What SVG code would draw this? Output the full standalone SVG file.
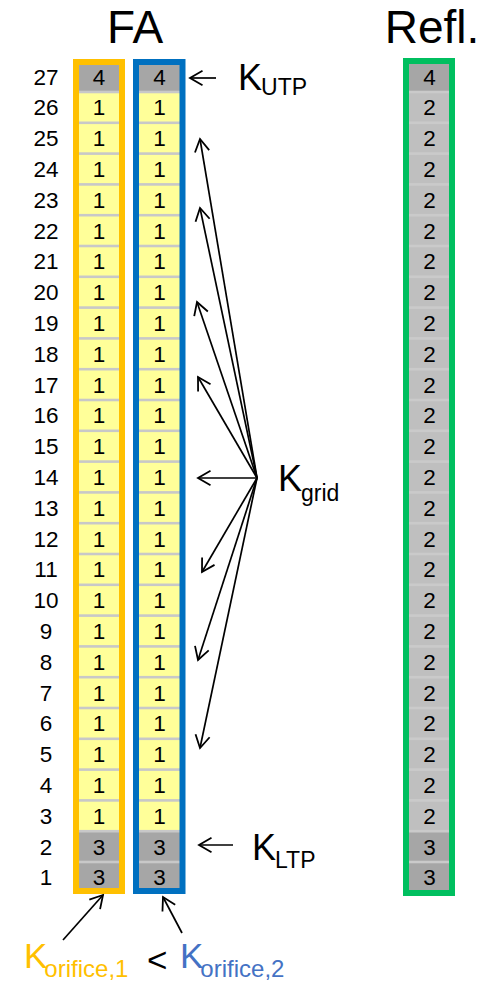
<svg xmlns="http://www.w3.org/2000/svg" width="488" height="982" viewBox="0 0 488 982">
  <style>
    text { font-family: "Liberation Sans", Arial, sans-serif; fill: #000; }
    .title { font-size: 46px; text-anchor: middle; }
    .num { font-size: 22.5px; text-anchor: middle; }
    .k { font-size: 36px; }
    .sub { font-size: 23px; }
    .yel { fill: #FFFF99; }
    .dk { fill: #A6A6A6; }
    .lt { fill: #BFBFBF; }
    .sepA { fill: #C8C8C8; }
    .sepB { fill: #CACACA; }
    .frame { fill: none; stroke-width: 6; }
    .conn line { stroke: #000; stroke-width: 1.7; fill: none; marker-end: url(#head); }
  </style>
  <defs>
    <marker id="head" viewBox="-16 -10 18 20" refX="0" refY="0" markerWidth="18" markerHeight="20" markerUnits="userSpaceOnUse" orient="auto">
      <path d="M-12.5,-7.2 L0,0 L-12.5,7.2" fill="none" stroke="#000" stroke-width="1.8"/>
    </marker>
  </defs>

  <rect width="488" height="982" fill="#fff"/>

  <!-- column titles -->
  <text class="title" x="135" y="43">FA</text>
  <text class="title" x="432" y="43">Refl.</text>

  <!-- axial node numbers -->
  <g id="row-labels">
    <text class="num" x="46" y="84.5">27</text>
    <text class="num" x="46" y="115.3">26</text>
    <text class="num" x="46" y="146.1">25</text>
    <text class="num" x="46" y="176.9">24</text>
    <text class="num" x="46" y="207.7">23</text>
    <text class="num" x="46" y="238.5">22</text>
    <text class="num" x="46" y="269.3">21</text>
    <text class="num" x="46" y="300.1">20</text>
    <text class="num" x="46" y="330.9">19</text>
    <text class="num" x="46" y="361.7">18</text>
    <text class="num" x="46" y="392.5">17</text>
    <text class="num" x="46" y="423.3">16</text>
    <text class="num" x="46" y="454.1">15</text>
    <text class="num" x="46" y="484.9">14</text>
    <text class="num" x="46" y="515.7">13</text>
    <text class="num" x="46" y="546.5">12</text>
    <text class="num" x="46" y="577.3">11</text>
    <text class="num" x="46" y="608.1">10</text>
    <text class="num" x="46" y="638.9">9</text>
    <text class="num" x="46" y="669.7">8</text>
    <text class="num" x="46" y="700.5">7</text>
    <text class="num" x="46" y="731.3">6</text>
    <text class="num" x="46" y="762.1">5</text>
    <text class="num" x="46" y="792.9">4</text>
    <text class="num" x="46" y="823.7">3</text>
    <text class="num" x="46" y="854.5">2</text>
    <text class="num" x="46" y="885.3">1</text>
  </g>

  <!-- FA, first assembly (orange) -->
  <g id="fa-col1">
    <rect class="sepA" x="79" y="62" width="40" height="829"/>
    <rect class="dk" x="79" y="62.5" width="40" height="28.2"/>
    <rect class="yel" x="79" y="93.3" width="40" height="28.2"/>
    <rect class="yel" x="79" y="124.1" width="40" height="28.2"/>
    <rect class="yel" x="79" y="154.9" width="40" height="28.2"/>
    <rect class="yel" x="79" y="185.7" width="40" height="28.2"/>
    <rect class="yel" x="79" y="216.5" width="40" height="28.2"/>
    <rect class="yel" x="79" y="247.3" width="40" height="28.2"/>
    <rect class="yel" x="79" y="278.1" width="40" height="28.2"/>
    <rect class="yel" x="79" y="308.9" width="40" height="28.2"/>
    <rect class="yel" x="79" y="339.7" width="40" height="28.2"/>
    <rect class="yel" x="79" y="370.5" width="40" height="28.2"/>
    <rect class="yel" x="79" y="401.3" width="40" height="28.2"/>
    <rect class="yel" x="79" y="432.1" width="40" height="28.2"/>
    <rect class="yel" x="79" y="462.9" width="40" height="28.2"/>
    <rect class="yel" x="79" y="493.7" width="40" height="28.2"/>
    <rect class="yel" x="79" y="524.5" width="40" height="28.2"/>
    <rect class="yel" x="79" y="555.3" width="40" height="28.2"/>
    <rect class="yel" x="79" y="586.1" width="40" height="28.2"/>
    <rect class="yel" x="79" y="616.9" width="40" height="28.2"/>
    <rect class="yel" x="79" y="647.7" width="40" height="28.2"/>
    <rect class="yel" x="79" y="678.5" width="40" height="28.2"/>
    <rect class="yel" x="79" y="709.3" width="40" height="28.2"/>
    <rect class="yel" x="79" y="740.1" width="40" height="28.2"/>
    <rect class="yel" x="79" y="770.9" width="40" height="28.2"/>
    <rect class="yel" x="79" y="801.7" width="40" height="28.2"/>
    <rect class="dk" x="79" y="832.5" width="40" height="28.2"/>
    <rect class="dk" x="79" y="863.3" width="40" height="28.2"/>
    <text class="num" x="99" y="84.5">4</text>
    <text class="num" x="99" y="115.3">1</text>
    <text class="num" x="99" y="146.1">1</text>
    <text class="num" x="99" y="176.9">1</text>
    <text class="num" x="99" y="207.7">1</text>
    <text class="num" x="99" y="238.5">1</text>
    <text class="num" x="99" y="269.3">1</text>
    <text class="num" x="99" y="300.1">1</text>
    <text class="num" x="99" y="330.9">1</text>
    <text class="num" x="99" y="361.7">1</text>
    <text class="num" x="99" y="392.5">1</text>
    <text class="num" x="99" y="423.3">1</text>
    <text class="num" x="99" y="454.1">1</text>
    <text class="num" x="99" y="484.9">1</text>
    <text class="num" x="99" y="515.7">1</text>
    <text class="num" x="99" y="546.5">1</text>
    <text class="num" x="99" y="577.3">1</text>
    <text class="num" x="99" y="608.1">1</text>
    <text class="num" x="99" y="638.9">1</text>
    <text class="num" x="99" y="669.7">1</text>
    <text class="num" x="99" y="700.5">1</text>
    <text class="num" x="99" y="731.3">1</text>
    <text class="num" x="99" y="762.1">1</text>
    <text class="num" x="99" y="792.9">1</text>
    <text class="num" x="99" y="823.7">1</text>
    <text class="num" x="99" y="854.5">3</text>
    <text class="num" x="99" y="885.3">3</text>
    <rect class="frame" x="76" y="62" width="46" height="829" stroke="#FFC000"/>
  </g>

  <!-- FA, second assembly (blue) -->
  <g id="fa-col2">
    <rect class="sepA" x="139" y="62" width="41" height="829"/>
    <rect class="dk" x="139" y="62.5" width="41" height="28.2"/>
    <rect class="yel" x="139" y="93.3" width="41" height="28.2"/>
    <rect class="yel" x="139" y="124.1" width="41" height="28.2"/>
    <rect class="yel" x="139" y="154.9" width="41" height="28.2"/>
    <rect class="yel" x="139" y="185.7" width="41" height="28.2"/>
    <rect class="yel" x="139" y="216.5" width="41" height="28.2"/>
    <rect class="yel" x="139" y="247.3" width="41" height="28.2"/>
    <rect class="yel" x="139" y="278.1" width="41" height="28.2"/>
    <rect class="yel" x="139" y="308.9" width="41" height="28.2"/>
    <rect class="yel" x="139" y="339.7" width="41" height="28.2"/>
    <rect class="yel" x="139" y="370.5" width="41" height="28.2"/>
    <rect class="yel" x="139" y="401.3" width="41" height="28.2"/>
    <rect class="yel" x="139" y="432.1" width="41" height="28.2"/>
    <rect class="yel" x="139" y="462.9" width="41" height="28.2"/>
    <rect class="yel" x="139" y="493.7" width="41" height="28.2"/>
    <rect class="yel" x="139" y="524.5" width="41" height="28.2"/>
    <rect class="yel" x="139" y="555.3" width="41" height="28.2"/>
    <rect class="yel" x="139" y="586.1" width="41" height="28.2"/>
    <rect class="yel" x="139" y="616.9" width="41" height="28.2"/>
    <rect class="yel" x="139" y="647.7" width="41" height="28.2"/>
    <rect class="yel" x="139" y="678.5" width="41" height="28.2"/>
    <rect class="yel" x="139" y="709.3" width="41" height="28.2"/>
    <rect class="yel" x="139" y="740.1" width="41" height="28.2"/>
    <rect class="yel" x="139" y="770.9" width="41" height="28.2"/>
    <rect class="yel" x="139" y="801.7" width="41" height="28.2"/>
    <rect class="dk" x="139" y="832.5" width="41" height="28.2"/>
    <rect class="dk" x="139" y="863.3" width="41" height="28.2"/>
    <text class="num" x="159.5" y="84.5">4</text>
    <text class="num" x="159.5" y="115.3">1</text>
    <text class="num" x="159.5" y="146.1">1</text>
    <text class="num" x="159.5" y="176.9">1</text>
    <text class="num" x="159.5" y="207.7">1</text>
    <text class="num" x="159.5" y="238.5">1</text>
    <text class="num" x="159.5" y="269.3">1</text>
    <text class="num" x="159.5" y="300.1">1</text>
    <text class="num" x="159.5" y="330.9">1</text>
    <text class="num" x="159.5" y="361.7">1</text>
    <text class="num" x="159.5" y="392.5">1</text>
    <text class="num" x="159.5" y="423.3">1</text>
    <text class="num" x="159.5" y="454.1">1</text>
    <text class="num" x="159.5" y="484.9">1</text>
    <text class="num" x="159.5" y="515.7">1</text>
    <text class="num" x="159.5" y="546.5">1</text>
    <text class="num" x="159.5" y="577.3">1</text>
    <text class="num" x="159.5" y="608.1">1</text>
    <text class="num" x="159.5" y="638.9">1</text>
    <text class="num" x="159.5" y="669.7">1</text>
    <text class="num" x="159.5" y="700.5">1</text>
    <text class="num" x="159.5" y="731.3">1</text>
    <text class="num" x="159.5" y="762.1">1</text>
    <text class="num" x="159.5" y="792.9">1</text>
    <text class="num" x="159.5" y="823.7">1</text>
    <text class="num" x="159.5" y="854.5">3</text>
    <text class="num" x="159.5" y="885.3">3</text>
    <rect class="frame" x="136" y="62" width="46.5" height="829" stroke="#0070C0"/>
  </g>

  <!-- reflector column (green) -->
  <g id="refl-col">
    <rect class="sepB" x="409" y="62" width="40" height="830"/>
    <rect class="dk" x="409" y="62.5" width="40" height="28.2"/>
    <rect class="lt" x="409" y="93.3" width="40" height="28.2"/>
    <rect class="lt" x="409" y="124.1" width="40" height="28.2"/>
    <rect class="lt" x="409" y="154.9" width="40" height="28.2"/>
    <rect class="lt" x="409" y="185.7" width="40" height="28.2"/>
    <rect class="lt" x="409" y="216.5" width="40" height="28.2"/>
    <rect class="lt" x="409" y="247.3" width="40" height="28.2"/>
    <rect class="lt" x="409" y="278.1" width="40" height="28.2"/>
    <rect class="lt" x="409" y="308.9" width="40" height="28.2"/>
    <rect class="lt" x="409" y="339.7" width="40" height="28.2"/>
    <rect class="lt" x="409" y="370.5" width="40" height="28.2"/>
    <rect class="lt" x="409" y="401.3" width="40" height="28.2"/>
    <rect class="lt" x="409" y="432.1" width="40" height="28.2"/>
    <rect class="lt" x="409" y="462.9" width="40" height="28.2"/>
    <rect class="lt" x="409" y="493.7" width="40" height="28.2"/>
    <rect class="lt" x="409" y="524.5" width="40" height="28.2"/>
    <rect class="lt" x="409" y="555.3" width="40" height="28.2"/>
    <rect class="lt" x="409" y="586.1" width="40" height="28.2"/>
    <rect class="lt" x="409" y="616.9" width="40" height="28.2"/>
    <rect class="lt" x="409" y="647.7" width="40" height="28.2"/>
    <rect class="lt" x="409" y="678.5" width="40" height="28.2"/>
    <rect class="lt" x="409" y="709.3" width="40" height="28.2"/>
    <rect class="lt" x="409" y="740.1" width="40" height="28.2"/>
    <rect class="lt" x="409" y="770.9" width="40" height="28.2"/>
    <rect class="lt" x="409" y="801.7" width="40" height="28.2"/>
    <rect class="dk" x="409" y="832.5" width="40" height="28.2"/>
    <rect class="dk" x="409" y="863.3" width="40" height="28.2"/>
    <text class="num" x="429.5" y="84.5">4</text>
    <text class="num" x="429.5" y="115.3">2</text>
    <text class="num" x="429.5" y="146.1">2</text>
    <text class="num" x="429.5" y="176.9">2</text>
    <text class="num" x="429.5" y="207.7">2</text>
    <text class="num" x="429.5" y="238.5">2</text>
    <text class="num" x="429.5" y="269.3">2</text>
    <text class="num" x="429.5" y="300.1">2</text>
    <text class="num" x="429.5" y="330.9">2</text>
    <text class="num" x="429.5" y="361.7">2</text>
    <text class="num" x="429.5" y="392.5">2</text>
    <text class="num" x="429.5" y="423.3">2</text>
    <text class="num" x="429.5" y="454.1">2</text>
    <text class="num" x="429.5" y="484.9">2</text>
    <text class="num" x="429.5" y="515.7">2</text>
    <text class="num" x="429.5" y="546.5">2</text>
    <text class="num" x="429.5" y="577.3">2</text>
    <text class="num" x="429.5" y="608.1">2</text>
    <text class="num" x="429.5" y="638.9">2</text>
    <text class="num" x="429.5" y="669.7">2</text>
    <text class="num" x="429.5" y="700.5">2</text>
    <text class="num" x="429.5" y="731.3">2</text>
    <text class="num" x="429.5" y="762.1">2</text>
    <text class="num" x="429.5" y="792.9">2</text>
    <text class="num" x="429.5" y="823.7">2</text>
    <text class="num" x="429.5" y="854.5">3</text>
    <text class="num" x="429.5" y="885.3">3</text>
    <rect class="frame" x="406" y="61" width="46" height="832" stroke="#00BF5F"/>
  </g>

  <!-- labels -->
  <g id="label-kutp">
    <text x="238" y="90"><tspan class="k">K</tspan><tspan class="sub" dx="-1" dy="5">UTP</tspan></text>
  </g>
  <g id="label-kgrid">
    <text x="278" y="491"><tspan class="k">K</tspan><tspan class="sub" dx="-1" dy="10">grid</tspan></text>
  </g>
  <g id="label-kltp">
    <text x="252" y="860"><tspan class="k">K</tspan><tspan class="sub" dx="-1" dy="8">LTP</tspan></text>
  </g>
  <g id="label-korifice">
    <text x="24" y="968" style="fill:#FFC000"><tspan class="k" style="font-size:35px">K</tspan><tspan class="sub" style="font-size:24px" dx="-3" dy="9">orifice,1</tspan></text>
    <text x="147" y="972" style="font-size:35px">&lt;</text>
    <text x="180" y="968" style="fill:#4472C4"><tspan class="k" style="font-size:35px">K</tspan><tspan class="sub" style="font-size:24px" dx="-3" dy="9">orifice,2</tspan></text>
  </g>

  <!-- connectors -->
  <g id="connectors" class="conn">
    <line x1="216" y1="78" x2="190" y2="78"/>
    <line x1="233" y1="845" x2="199" y2="845"/>
    <line x1="257" y1="478" x2="200" y2="139"/>
    <line x1="257" y1="478" x2="200" y2="208"/>
    <line x1="257" y1="478" x2="197" y2="302"/>
    <line x1="257" y1="478" x2="198" y2="377"/>
    <line x1="257" y1="478" x2="198" y2="478"/>
    <line x1="257" y1="478" x2="202" y2="572"/>
    <line x1="257" y1="478" x2="198" y2="660"/>
    <line x1="257" y1="478" x2="200" y2="748"/>
    <line x1="63" y1="940" x2="103" y2="895"/>
    <line x1="182" y1="933" x2="163" y2="897"/>
  </g>
</svg>
